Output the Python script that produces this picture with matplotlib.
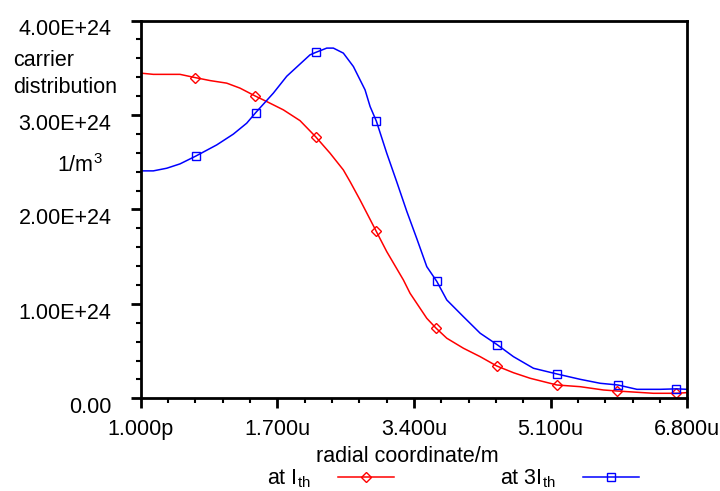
import matplotlib
matplotlib.use("Agg")
import matplotlib.pyplot as plt
import matplotlib.transforms as mtransforms
from matplotlib.lines import Line2D
from matplotlib.ticker import MultipleLocator

plt.rcParams['font.family'] = ['Liberation Sans', 'DejaVu Sans']
plt.rcParams['mathtext.fontset'] = 'custom'
plt.rcParams['mathtext.rm'] = 'Liberation Sans'
plt.rcParams['mathtext.it'] = 'Liberation Sans:italic'

# radial coordinate in micrometres, carrier density in 1E24 / m^3
red_x = [0.0, 0.157, 0.489, 0.676, 0.864, 1.070, 1.236, 1.422, 1.568, 1.775,
         1.982, 2.178, 2.356, 2.521, 2.605, 2.729, 2.928, 3.061, 3.268,
         3.351, 3.559, 3.675, 3.808, 4.015, 4.223, 4.430, 4.637, 4.845, 5.177,
         5.467, 5.757, 5.931, 6.173, 6.379, 6.658, 6.8]
red_y = [3.443, 3.43, 3.43, 3.396, 3.364, 3.337, 3.284, 3.202, 3.142, 3.054,
         2.94, 2.768, 2.595, 2.418, 2.294, 2.1, 1.772, 1.553, 1.253,
         1.112, 0.847, 0.742, 0.636, 0.53, 0.441, 0.342, 0.271, 0.212, 0.141,
         0.123, 0.088, 0.077, 0.064, 0.053, 0.053, 0.06]

blue_x = [0.0, 0.157, 0.324, 0.489, 0.684, 0.946, 1.152, 1.319, 1.431, 1.650,
          1.817, 2.107, 2.185, 2.315, 2.397, 2.521, 2.646, 2.791, 2.854, 2.932,
          3.061, 3.186, 3.310, 3.435, 3.559, 3.684, 3.808, 4.015, 4.223, 4.434,
          4.637, 4.886, 5.181, 5.467, 5.716, 5.936, 6.173, 6.463, 6.665, 6.8]
blue_y = [2.408, 2.408, 2.436, 2.482, 2.564, 2.683, 2.797, 2.913, 3.025, 3.231,
          3.41, 3.637, 3.665, 3.708, 3.708, 3.655, 3.513, 3.266, 3.089, 2.934,
          2.595, 2.29, 1.98, 1.69, 1.394, 1.237, 1.041, 0.864, 0.689, 0.568,
          0.441, 0.318, 0.257, 0.201, 0.159, 0.141, 0.095, 0.095, 0.10, 0.095]

red_mx = [0.676, 1.422, 2.178, 2.928, 3.675, 4.430, 5.177, 5.931, 6.658]
red_my = [3.396, 3.202, 2.768, 1.772, 0.742, 0.342, 0.141, 0.077, 0.053]
blue_mx = [0.684, 1.431, 2.185, 2.932, 3.684, 4.434, 5.181, 5.936, 6.665]
blue_my = [2.564, 3.025, 3.665, 2.934, 1.237, 0.568, 0.257, 0.141, 0.10]

xticks = [0.0, 1.7, 3.4, 5.1, 6.8]
xlabels = ['1.000p', '1.700u', '3.400u', '5.100u', '6.800u']
yticks = [0, 1, 2, 3, 4]
ylabels = ['0.00', '1.00E+24', '2.00E+24', '3.00E+24', '4.00E+24']

FS = 15.5

fig = plt.figure(figsize=(7.2, 4.91), dpi=100)
ax = fig.add_axes([0.1954, 0.1888, 0.7592, 0.7694])

ax.plot(red_x, red_y, color='red', lw=1.1)
ax.plot(red_mx, red_my, ls='none', marker='D', ms=4.6, mfc='none', mec='red', mew=1.0)
ax.plot(blue_x, blue_y, color='blue', lw=1.1)
ax.plot(blue_mx, blue_my, ls='none', marker='s', ms=5.2, mfc='none', mec='blue', mew=1.0)

ax.set_xlim(0, 6.8)
ax.set_ylim(0, 4)
ax.set_xticks(xticks)
ax.set_xticklabels(xlabels, fontsize=FS)
ax.set_yticks(yticks)
ax.set_yticklabels(ylabels, fontsize=FS)
ax.xaxis.set_minor_locator(MultipleLocator(0.34))
ax.yaxis.set_minor_locator(MultipleLocator(0.2))
ax.tick_params(which='major', direction='out', length=7, width=2, color='black')
ax.tick_params(which='minor', direction='out', length=3.6, width=1.5, color='black')
ax.tick_params(axis='x', which='major', pad=8)
ax.tick_params(axis='y', which='major', pad=14)
for s in ax.spines.values():
    s.set_linewidth(2)

off = mtransforms.ScaledTranslation(0, -5 / 72, fig.dpi_scale_trans)
for lab in ax.get_yticklabels():
    lab.set_transform(lab.get_transform() + off)

fig.text(13 / 720, 1 - 74 / 491, 'carrier\ndistribution', fontsize=FS,
         ha='left', va='center', linespacing=1.37)
fig.text(80 / 720, 1 - 166 / 491, '1/m$^3$', fontsize=FS, ha='center', va='center')
fig.text(407 / 720, 1 - 461.7 / 491, 'radial coordinate/m', fontsize=FS,
         ha='center', va='baseline')

handles = [Line2D([], [], color='red', lw=1.1, marker='D', ms=4.6, mfc='none', mec='red'),
           Line2D([], [], color='blue', lw=1.1, marker='s', ms=5.2, mfc='none', mec='blue')]
fig.legend(handles, [r'at I$_{\rm th}$', r'at 3I$_{\rm th}$'], loc='center',
           bbox_to_anchor=(453 / 720, 1 - 479 / 491), ncol=2, frameon=False,
           markerfirst=False, fontsize=FS, handlelength=2.6, handletextpad=1.3,
           columnspacing=4.9, borderpad=0, borderaxespad=0)

fig.savefig('out.png', dpi=100)
